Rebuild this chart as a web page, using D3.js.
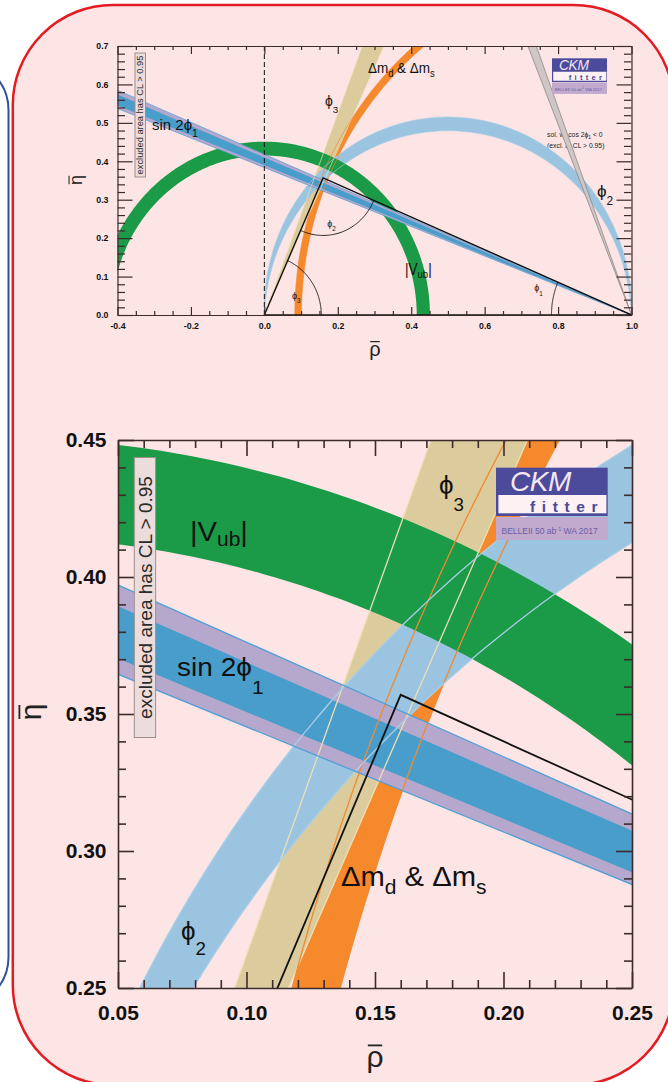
<!DOCTYPE html>
<html>
<head>
<meta charset="utf-8">
<script src="https://cdn.jsdelivr.net/npm/d3@7"></script>
<style>
  body { margin: 0; background: #fff; }
  svg { display: block; }
</style>
</head>
<body>
<svg id="fig" width="668" height="1082"></svg>
<script>
// Unitarity-triangle constraints in the (rho-bar, eta-bar) plane, 95% CL limits
const sin2phi1TanOuter = [0.3837, 0.4180];   // tan(phi1), outer band
const sin2phi1TanInner = [0.3897, 0.4098];   // tan(phi1), inner band
const cos2phi1NegTan   = [2.48, 2.70];       // mirror solution with cos 2phi1 < 0
const vubRadius        = [0.415, 0.451];     // |Vub| circle radius around (0,0)
const phi2Deg          = [88.3, 92.4];       // phi2 (alpha) in degrees
const phi3Tan          = [2.15, 2.62];       // tan(phi3)
const dmRadius         = [0.899, 0.917];     // R_t circle radius around (1,0)
const apex             = [0.160, 0.357];     // fitted apex (rho-bar, eta-bar)

// Tick labels
const fullXLabels = [-0.4, -0.2, 0.0, 0.2, 0.4, 0.6, 0.8, 1.0];
const fullYLabels = [0.0, 0.1, 0.2, 0.3, 0.4, 0.5, 0.6, 0.7];
const zoomXLabels = [0.05, 0.10, 0.15, 0.20, 0.25];
const zoomYLabels = [0.25, 0.30, 0.35, 0.40, 0.45];

const FONT = "'Liberation Sans', 'DejaVu Sans', Arial, Helvetica, sans-serif";
const PHI = 'ϕ';
const C = {
  pink: '#fde5e5', green: '#1b9a47', lightBlue: '#9bc4e0', tan: '#dccb9d',
  orange: '#f6892b', blue: '#489dcb', lavender: '#b6a8cd', blueEdge: '#4f9fd6',
  tanEdge: '#ecdfb6', orangeEdge: '#ef8a33', lbEdge: '#a9cfe8',
  grey: '#cfc6c6', greyEdge: '#8f8888', axis: '#3b2b2b', logo: '#4b4a9b'
};

const svg = d3.select('#fig');

// slide cards
svg.append('rect').attr('x', -100).attr('y', 60).attr('width', 108.5).attr('height', 947)
  .attr('rx', 50).attr('fill', '#fff').attr('stroke', '#2f519a').attr('stroke-width', 2);
svg.append('rect').attr('x', 12.8).attr('y', 5).attr('width', 661).attr('height', 1080)
  .attr('rx', 100).attr('fill', C.pink).attr('stroke', '#e31b23').attr('stroke-width', 2.5);

function makePanel(id, xDom, xRange, yDom, yRange) {
  const x = d3.scaleLinear().domain(xDom).range(xRange);
  const y = d3.scaleLinear().domain(yDom).range(yRange);
  const g = svg.append('g');
  svg.append('clipPath').attr('id', 'clip-' + id).append('rect')
    .attr('x', xRange[0]).attr('y', yRange[1])
    .attr('width', xRange[1] - xRange[0]).attr('height', yRange[0] - yRange[1]);
  const plot = g.append('g').attr('clip-path', `url(#clip-${id})`);
  const line = d3.line().x(d => x(d[0])).y(d => y(d[1]));
  return { x, y, g, plot, line };
}

// ---- geometry helpers (data coordinates) ----
const arcPts = (cx, cy, r, a0, a1, n = 360) =>
  d3.range(n + 1).map(i => { const a = a0 + (a1 - a0) * i / n; return [cx + r * Math.cos(a), cy + r * Math.sin(a)]; });
const fromRight = t => [[1, 0], [-1, 2 * t]];          // eta = t (1 - rho)
const fromOrigin = t => [[0, 0], [1 / t, 1]];          // eta = t rho
const mirrorLine = t => [[1, 0], [1 - 1 / t, 1]];
const phi2Arc = deg => {
  const a = deg * Math.PI / 180, yc = 0.5 / Math.tan(a), r = 0.5 / Math.sin(a), s = Math.atan(2 * yc);
  return arcPts(0.5, yc, r, -s, Math.PI + s);
};
const wedge = (e0, e1) => [e0[0], e0[1], e1[1]];
const annulus = (cx, r0, r1, a0, a1) => arcPts(cx, 0, r1, a0, a1).concat(arcPts(cx, 0, r0, a1, a0));

function drawBands(p, full, lw) {
  const P = p.plot;
  const fill = (pts, color) => P.append('path').attr('d', p.line(pts) + 'Z').attr('fill', color).attr('stroke', 'none');
  const edge = (pts, color, w) => P.append('path').attr('d', p.line(pts)).attr('fill', 'none').attr('stroke', color).attr('stroke-width', w || lw);

  // filled regions
  fill(annulus(1, dmRadius[0], dmRadius[1], Math.PI / 2, Math.PI), C.orange);
  fill(wedge(fromOrigin(phi3Tan[0]), fromOrigin(phi3Tan[1])), C.tan);
  fill(phi2Arc(phi2Deg[0]).concat(phi2Arc(phi2Deg[1]).reverse()), C.lightBlue);
  fill(annulus(0, vubRadius[0], vubRadius[1], 0, Math.PI), C.green);
  fill(wedge(fromRight(sin2phi1TanOuter[0]), fromRight(sin2phi1TanOuter[1])), C.lavender);
  fill(wedge(fromRight(sin2phi1TanInner[0]), fromRight(sin2phi1TanInner[1])), C.blue);

  if (full) {
    // note sits beneath the mirror-solution band
    const note = p.g.append('g').attr('font-family', FONT).attr('font-size', 6.8).attr('fill', '#222');
    const n1 = note.append('text').attr('x', p.x(0.770)).attr('y', p.y(0.463));
    n1.append('tspan').text('sol. w/ cos 2' + PHI);
    n1.append('tspan').attr('font-size', 5).attr('dy', 2).text('1');
    n1.append('tspan').attr('dy', -2).text(' < 0');
    note.append('text').attr('x', p.x(0.770)).attr('y', p.y(0.435)).text('(excl. at CL > 0.95)');
    p.plot.raise();
    fill(wedge(mirrorLine(cos2phi1NegTan[0]), mirrorLine(cos2phi1NegTan[1])), C.grey);
  }

  // band contours
  phi3Tan.forEach(t => edge(fromOrigin(t), C.tanEdge));
  dmRadius.forEach(r => edge(arcPts(1, 0, r, Math.PI / 2, Math.PI), C.orangeEdge));
  phi2Deg.forEach(d => edge(phi2Arc(d), C.lbEdge));
  sin2phi1TanOuter.forEach(t => edge(fromRight(t), C.blueEdge));
  if (full) cos2phi1NegTan.forEach(t => edge(mirrorLine(t), C.greyEdge, 0.8));

  // triangle
  const tri = full ? [[0, 0], apex, [1, 0], [0, 0]] : [[0, 0], apex, [1, 0]];
  P.append('path').attr('d', p.line(tri)).attr('fill', 'none').attr('stroke', '#111')
    .attr('stroke-width', full ? 1.4 : 1.8).attr('stroke-linejoin', 'miter');

  if (full) {
    const ang = (cx, cy, r, a0, a1) => P.append('path').attr('d', p.line(arcPts(cx, cy, r, a0, a1, 80)))
      .attr('fill', 'none').attr('stroke', '#111').attr('stroke-width', 0.9);
    ang(0, 0, 0.155, 0, Math.atan2(apex[1], apex[0]));
    ang(apex[0], apex[1], 0.15, Math.atan2(-apex[1], -apex[0]), Math.atan2(-apex[1], 1 - apex[0]));
    ang(1, 0, 0.218, Math.atan2(apex[1], apex[0] - 1), Math.PI);
    P.append('line').attr('x1', p.x(0)).attr('x2', p.x(0)).attr('y1', p.y(0)).attr('y2', p.y(0.7))
      .attr('stroke', '#111').attr('stroke-width', 1).attr('stroke-dasharray', '5,3');
  }
}

function drawAxes(p, o) {
  const [x0, x1] = p.x.range(), [y0, y1] = p.y.range();
  const style = sel => {
    sel.selectAll('line,path').attr('stroke', C.axis).attr('stroke-width', o.sw);
    sel.selectAll('text').attr('font-family', FONT).attr('font-weight', 'bold')
      .attr('font-size', o.fs).attr('fill', '#111');
  };
  const fmt = d => d.toFixed(o.dec);
  const add = (axis, tr, vals, len, labels, pad, domain) => {
    const a = p.g.append('g').attr('transform', tr)
      .call(axis.tickValues(vals).tickSize(-len).tickSizeOuter(0).tickPadding(pad || 3).tickFormat(labels ? fmt : ''));
    if (!domain) a.select('.domain').remove();
    if (!labels) a.selectAll('text').remove();
    style(a);
  };
  const isMaj = (v, maj) => maj.some(m => Math.abs(m - v) < 1e-9);
  const xMin = o.xMinor.filter(v => !isMaj(v, o.xMajor));
  const yMin = o.yMinor.filter(v => !isMaj(v, o.yMajor));
  add(d3.axisBottom(p.x), `translate(0,${y0})`, xMin, o.xLen / 2, false);
  add(d3.axisTop(p.x), `translate(0,${y1})`, xMin, o.xLen / 2, false);
  add(d3.axisLeft(p.y), `translate(${x0},0)`, yMin, o.yLen / 2, false);
  add(d3.axisRight(p.y), `translate(${x1},0)`, yMin, o.yLen / 2, false);
  add(d3.axisBottom(p.x), `translate(0,${y0})`, o.xMajor, o.xLen, true, o.padX, true);
  add(d3.axisTop(p.x), `translate(0,${y1})`, o.xMajor, o.xLen, false, 3, true);
  add(d3.axisLeft(p.y), `translate(${x0},0)`, o.yMajor, o.yLen, true, o.padY, true);
  add(d3.axisRight(p.y), `translate(${x1},0)`, o.yMajor, o.yLen, false, 3, true);
}

// text with subscripts: parts = [[string, dropInPx or null]]
function rich(parent, x, y, size, parts, opt = {}) {
  const g = parent.append('g').attr('transform', `translate(${x},${y}) scale(${opt.sx || 1},1)`);
  const t = g.append('text').attr('font-family', FONT).attr('font-size', size).attr('fill', opt.fill || '#111');
  let cur = 0;
  parts.forEach(([s, drop]) => {
    const target = drop == null ? 0 : drop;
    t.append('tspan').attr('dy', target - cur).attr('font-size', drop == null ? size : size * (opt.sub || 0.7)).text(s);
    cur = target;
  });
  return t;
}

// axis title with an overline, optionally rotated
function barTitle(parent, x, y, ch, size, rotate) {
  const g = parent.append('g').attr('transform', `translate(${x},${y})` + (rotate ? ' rotate(-90)' : ''));
  const t = g.append('text').attr('text-anchor', 'middle').attr('font-family', FONT)
    .attr('font-size', size).attr('fill', '#222').text(ch);
  const b = t.node().getBBox();
  g.append('line').attr('x1', b.x + b.width * 0.08).attr('x2', b.x + b.width * 0.92)
    .attr('y1', -size * 0.72).attr('y2', -size * 0.72).attr('stroke', '#222').attr('stroke-width', size * 0.06);
}

function logo(parent, x, y, s) {
  const g = parent.append('g').attr('transform', `translate(${x},${y}) scale(${s})`);
  g.append('rect').attr('width', 111.7).attr('height', 48.3).attr('fill', C.logo);
  g.append('rect').attr('x', 2.4).attr('y', 27.3).attr('width', 108).attr('height', 18.3).attr('fill', '#fdf1f3');
  g.append('rect').attr('y', 49.3).attr('width', 111.7).attr('height', 23).attr('fill', '#c1aace');
  g.append('text').attr('x', 14).attr('y', 23.5).attr('font-family', FONT).attr('font-style', 'italic')
    .attr('font-size', 28).attr('fill', '#f4e6f0').attr('letter-spacing', -0.5).text('CKM');
  g.append('text').attr('x', 34).attr('y', 44.8).attr('font-family', FONT).attr('font-weight', 'bold')
    .attr('font-size', 15.5).attr('fill', C.logo).attr('letter-spacing', 6.6).text('fitter');
  const t = g.append('text').attr('x', 5.5).attr('y', 66.5).attr('font-family', FONT)
    .attr('font-size', 8.5).attr('fill', '#6a5ea6');
  t.append('tspan').text('BELLEII 50 ab');
  t.append('tspan').attr('font-size', 5.5).attr('dy', -3.5).text('-1');
  t.append('tspan').attr('dy', 3.5).text(' WA 2017');
}

function clBox(parent, x, y, w, h, size, baseX) {
  parent.append('rect').attr('x', x).attr('y', y).attr('width', w).attr('height', h)
    .attr('fill', '#eddcdc').attr('stroke', '#9d8f8f').attr('stroke-width', 1);
  parent.append('text').attr('transform', `translate(${baseX},${y + h / 2}) rotate(-90)`)
    .attr('text-anchor', 'middle').attr('font-family', FONT).attr('font-size', size)
    .attr('fill', '#2a2a2a').text('excluded area has CL > 0.95');
}

// ================= full triangle =================
const full = makePanel('full', [-0.4, 1.0], [117.5, 631.5], [0, 0.7], [315, 46]);
drawBands(full, true, 0.7);
drawAxes(full, {
  xMajor: fullXLabels, xMinor: d3.range(-0.4, 1.0001, 0.05),
  yMajor: fullYLabels, yMinor: d3.range(0, 0.7001, 0.02),
  xLen: 8, yLen: 15, sw: 1.2, fs: 8.8, dec: 1, padX: 7.5, padY: 9
});
{
  const g = full.g, x = full.x, y = full.y;
  rich(g, x(-0.306), y(0.481), 15, [['sin 2' + PHI], ['1', 7]]);
  rich(g, x(0.165), y(0.544), 14, [[PHI], ['3', 7]]);
  rich(g, x(0.282), y(0.630), 15, [['Δm'], ['d', 4], [' & Δm'], ['s', 4]], { sx: 0.9 });
  rich(g, x(0.383), y(0.104), 16, [['|V'], ['ub', 3], ['|']], { sx: 0.85 });
  rich(g, x(0.906), y(0.307), 17, [[PHI], ['2', 8]]);
  rich(g, x(0.075), y(0.042), 9, [[PHI], ['3', 4]]);
  rich(g, x(0.171), y(0.229), 9, [[PHI], ['2', 4]]);
  rich(g, x(0.735), y(0.062), 9, [[PHI], ['1', 5]]);
  logo(g, 552, 58.3, 0.4925);
  clBox(g, 135, 53, 10.5, 124, 9.3, 143.3);
  barTitle(g, 375, 356, 'ρ', 20, false);
  barTitle(g, 82, 180, 'η', 18, true);
}

// ================= zoomed view =================
const zoom = makePanel('zoom', [0.05, 0.25], [118, 632], [0.25, 0.45], [988, 440]);
drawBands(zoom, false, 1.3);
drawAxes(zoom, {
  xMajor: zoomXLabels, xMinor: d3.range(0.05, 0.2501, 0.01),
  yMajor: zoomYLabels, yMinor: d3.range(0.25, 0.4501, 0.01),
  xLen: 16, yLen: 16, sw: 1.6, fs: 21, dec: 2, padX: 17, padY: 11.5
});
{
  const g = zoom.g, x = zoom.x, y = zoom.y;
  rich(g, x(0.078), y(0.4131), 27, [['|V'], ['ub', 5], ['|']], { sx: 1.08, sub: 0.72 });
  rich(g, x(0.073), y(0.3639), 25, [['sin 2' + PHI], ['1', 18]], { sx: 1.12, sub: 0.75 });
  rich(g, x(0.1749), y(0.4303), 26, [[PHI], ['3', 17]], { sub: 0.72 });
  rich(g, x(0.1368), y(0.2872), 27, [['Δm'], ['d', 8], [' & Δm'], ['s', 8]], { sx: 1.08, sub: 0.72 });
  rich(g, x(0.0745), y(0.2675), 26, [[PHI], ['2', 15]], { sub: 0.72 });
  logo(g, 496, 467.7, 1);
  clBox(g, 134.3, 457.5, 21.3, 280, 19, 152);
  barTitle(g, 375, 1067, 'ρ', 30, false);
  barTitle(g, 41, 712, 'η', 30, true);
}
</script>
</body>
</html>
